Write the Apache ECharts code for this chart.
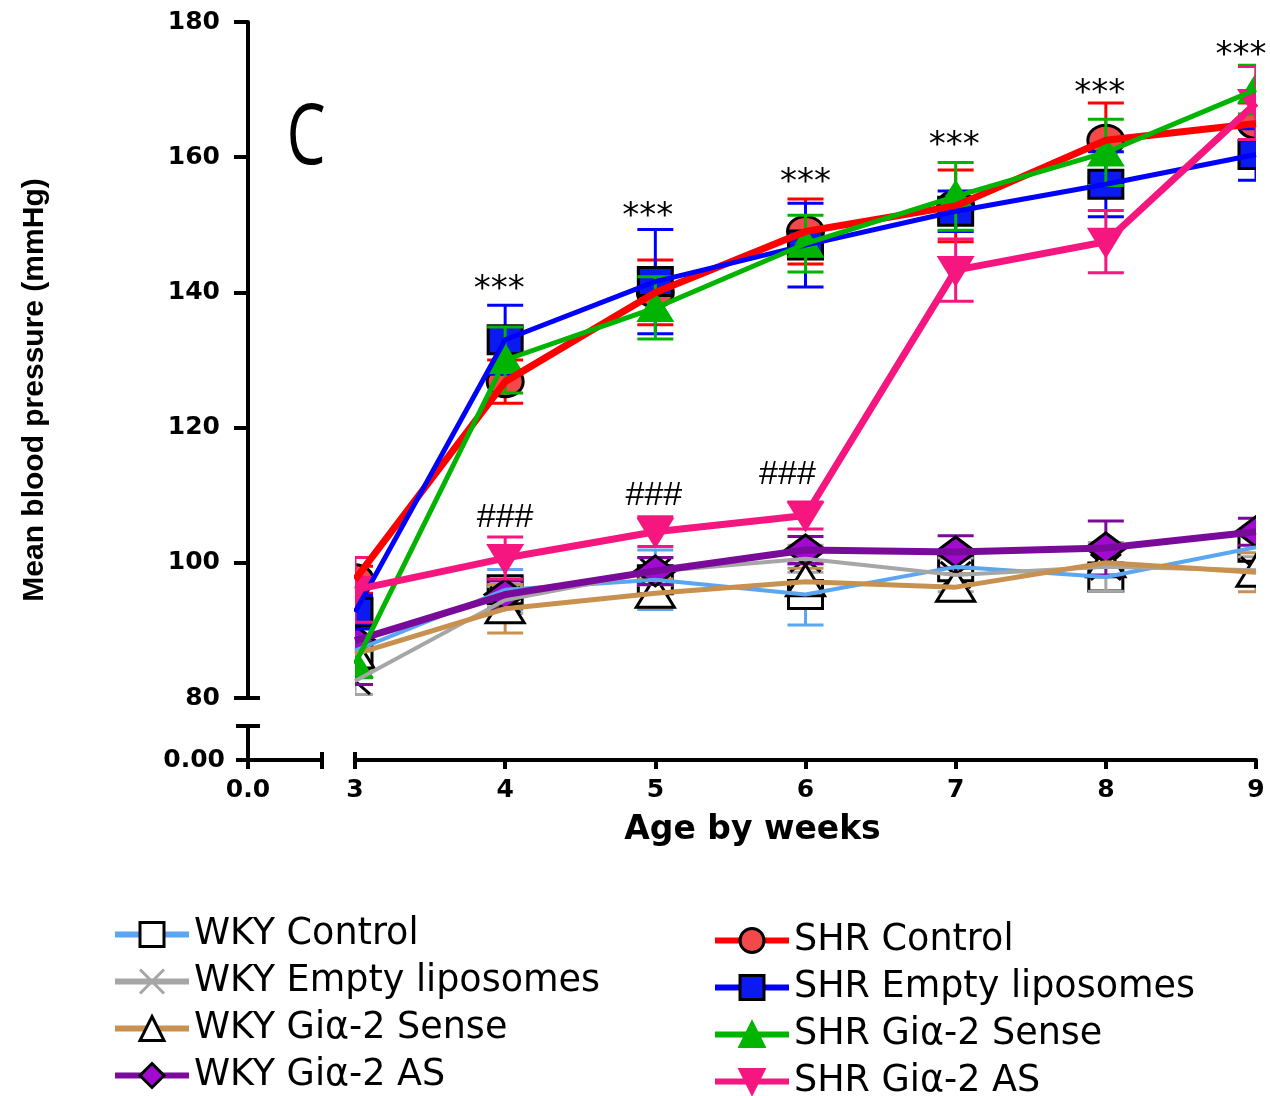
<!DOCTYPE html>
<html><head><meta charset="utf-8">
<script src="https://cdn.jsdelivr.net/npm/echarts@6/dist/echarts.min.js"></script>
<style>html,body{margin:0;padding:0;background:#fff}#c{width:1270px;height:1096px}</style>
</head><body><div id="c"></div>
<script>
// ---------- data ----------
const weeks = [3, 4, 5, 6, 7, 8, 9];

const wkyControl     = [87, 96, 97.5, 95.3, 99.4, 97.9, 102.3];
const wkyControlErr  = [2, 3, 4.4, 4.5, 2, 2, 2];
const wkyEmpty       = [82.5, 94.5, 98.7, 100.6, 98.2, 99.4, 98.9];
const wkyEmptyErr    = [2, 2, 2, 2, 2.5, 3.6, 2];
const wkySense       = [86.5, 93.2, 95.5, 97.2, 96.4, 100, 98.6];
const wkySenseErr    = [2, 3.6, 2.1, 2, 2, 2, 2.9];
const wkyAS          = [88.5, 95.3, 98.8, 101.9, 101.6, 102.2, 104.6];
const wkyASErr       = [6.5, 2, 2, 2, 2.4, 4, 2];

const shrControl     = [97.5, 126.8, 140, 149, 152.8, 162.5, 165];
const shrControlErr  = [2, 3.2, 4.8, 4.8, 5.3, 5.5, 3];
const shrEmpty       = [92.7, 133, 141.6, 147, 152, 156, 160.4];
const shrEmptyErr    = [2.5, 5.1, 7.7, 6.2, 3, 4.8, 3.8];
const shrSense       = [85, 130, 137.7, 147.2, 154.2, 160.7, 170];
const shrSenseErr    = [2, 4.9, 4.6, 4.2, 5, 4.9, 3.6];
const shrAS          = [96, 100.7, 104.6, 107, 143.3, 147.5, 168];
const shrASErr       = [4.8, 3.1, 2.2, 2, 4.6, 4.6, 5.4];

const starX      = [3.96, 4.95, 6.0, 6.99, 7.96, 8.9];
const starLevel  = [140.3, 151.1, 156.1, 161.6, 169.3, 175.0];
const hashX      = [4.0, 4.99, 5.88];
const hashLevel  = [106.7, 110, 113];

const yTicks = { min: 80, max: 180, step: 20 };
const xTicks = { min: 3, max: 9, step: 1 };

// ---------- layout ----------
const GL = 355, GR = 1256, GT = 22, GB = 698;
const AXX = 248, AXY = 760, STUB_R = 322, STUB_T = 726;
const W = 1270, H = 1096;

const groups = [
  { name: 'WKY Control', vals: wkyControl, errs: wkyControlErr, line: '#5aa6f2', lw: 4, marker: 'rect', fill: '#ffffff', stroke: '#000', legendSym: 'rect' },
  { name: 'WKY Empty liposomes', vals: wkyEmpty, errs: wkyEmptyErr, line: '#a6a6a6', lw: 4, marker: 'x', fill: 'none', stroke: '#000', legendSym: 'path://M0,0L10,10M10,0L0,10', legendStroke: '#a6a6a6' },
  { name: 'WKY Giα-2 Sense', vals: wkySense, errs: wkySenseErr, line: '#c8914f', lw: 5, marker: 'tri', fill: '#ffffff', stroke: '#000', legendSym: 'triangle' },
  { name: 'WKY Giα-2 AS', vals: wkyAS, errs: wkyASErr, line: '#7a0a9a', lw: 7, marker: 'diamond', fill: '#a20ad2', stroke: '#000', legendSym: 'diamond' },
  { name: 'SHR Control', vals: shrControl, errs: shrControlErr, line: '#ff0000', lw: 7, marker: 'circle', fill: '#f24a4a', stroke: '#000', legendSym: 'circle' },
  { name: 'SHR Empty liposomes', vals: shrEmpty, errs: shrEmptyErr, line: '#0000ff', lw: 5, marker: 'rect', fill: '#0a1af0', stroke: '#000', legendSym: 'rect' },
  { name: 'SHR Giα-2 Sense', vals: shrSense, errs: shrSenseErr, line: '#00b400', lw: 5, marker: 'tri', fill: '#00b400', stroke: null, legendSym: 'triangle' },
  { name: 'SHR Giα-2 AS', vals: shrAS, errs: shrASErr, line: '#f5177f', lw: 7, marker: 'itri', fill: '#f5177f', stroke: null, legendSym: 'path://M0,0L10,0L5,10Z' }
];

function markerShape(g, px, py) {
  const sw = 3;
  const st = g.stroke ? { fill: g.fill, stroke: g.stroke, lineWidth: sw } : { fill: g.fill };
  switch (g.marker) {
    case 'rect':
      return { type: 'rect', x: px, y: py, shape: { x: -17, y: -14, width: 34, height: 28 }, style: st };
    case 'circle':
      return { type: 'ellipse', x: px, y: py, shape: { cx: 0, cy: 0, rx: 18, ry: 15 }, style: st };
    case 'tri':
      return { type: 'polygon', x: px, y: py, shape: { points: [[0, -17], [19, 14], [-19, 14]] }, style: st };
    case 'itri':
      return { type: 'polygon', x: px, y: py, shape: { points: [[-19, -14], [19, -14], [0, 17]] }, style: st };
    case 'diamond':
      return { type: 'polygon', x: px, y: py, shape: { points: [[0, -15], [20, 0], [0, 15], [-20, 0]] }, style: st };
    case 'x':
      return { type: 'group', x: px, y: py, children: [
        { type: 'line', shape: { x1: -15, y1: -13, x2: 15, y2: 13 }, style: { stroke: '#000', lineWidth: 3 } },
        { type: 'line', shape: { x1: 15, y1: -13, x2: -15, y2: 13 }, style: { stroke: '#000', lineWidth: 3 } }
      ] };
  }
}

const series = [];
groups.forEach((g) => {
  const pts = weeks.map((w, i) => [w, g.vals[i]]);
  series.push({
    type: 'line', name: g.name, xAxisIndex: 0, yAxisIndex: 0,
    data: pts, showSymbol: false, symbol: g.legendSym, symbolSize: 24,
    lineStyle: { color: g.line, width: g.lw },
    itemStyle: { color: g.fill === 'none' ? g.line : g.fill, borderColor: g.legendStroke || g.stroke || g.fill, borderWidth: 3 },
    emphasis: { disabled: true }, silent: true, clip: true, animation: false
  });
  series.push({
    type: 'custom', name: g.name + ' markers', xAxisIndex: 0, yAxisIndex: 0,
    clip: true, silent: true, animation: false,
    data: weeks.map((w, i) => [w, g.vals[i], g.errs[i]]),
    encode: { x: 0, y: 1 },
    renderItem: function (params, api) {
      const x = api.value(0), y = api.value(1), e = api.value(2);
      const c = api.coord([x, y]);
      const t = api.coord([x, y + e]);
      const b = api.coord([x, y - e]);
      const cap = 18;
      const es = { stroke: g.line, lineWidth: 3 };
      return { type: 'group',
        children: [
          { type: 'line', shape: { x1: c[0], y1: t[1], x2: c[0], y2: b[1] }, style: es },
          { type: 'line', shape: { x1: c[0] - cap, y1: t[1], x2: c[0] + cap, y2: t[1] }, style: es },
          { type: 'line', shape: { x1: c[0] - cap, y1: b[1], x2: c[0] + cap, y2: b[1] }, style: es },
          markerShape(g, c[0], c[1])
        ] };
    }
  });
});

function textSeries(xs, ys, txt, font, size) {
  return {
    type: 'custom', name: txt, xAxisIndex: 0, yAxisIndex: 0, silent: true, animation: false, z: 6,
    data: xs.map((x, i) => [x, ys[i]]),
    encode: { x: 0, y: 1 },
    renderItem: function (params, api) {
      const p = api.coord([api.value(0), api.value(1)]);
      return { type: 'text', x: p[0], y: p[1], style: { text: txt, fontFamily: font, fontSize: size, fill: '#000', align: 'center', verticalAlign: 'middle' } };
    }
  };
}
series.push(textSeries(starX, starLevel, '***', 'DejaVu Sans', 34));
series.push(textSeries(hashX, hashLevel, '###', 'Liberation Sans', 34));

const tickLabel = { fontFamily: 'DejaVu Sans', fontWeight: 'bold', fontSize: 25, color: '#000' };
const axLine = { show: true, lineStyle: { color: '#000', width: 4 } };

const legendCommon = {
  orient: 'vertical', itemWidth: 74, itemHeight: 30, itemGap: 10, padding: 0, height: 185,
  textStyle: { fontFamily: 'DejaVu Sans', fontSize: 36.5, color: '#000' },
  itemStyle: { borderWidth: 3 }, lineStyle: { width: 6 },
  selectedMode: false
};

const option = {
  backgroundColor: '#fff',
  animation: false,
  grid: [
    { left: GL, right: W - GR, top: GT, bottom: H - GB, containLabel: false },
    { left: AXX, width: STUB_R - AXX, top: STUB_T, height: AXY - STUB_T, containLabel: false }
  ],
  xAxis: [
    { type: 'value', gridIndex: 0, min: xTicks.min, max: xTicks.max, interval: xTicks.step,
      offset: AXY - GB, position: 'bottom',
      axisLine: axLine, axisTick: { show: true, length: 9, lineStyle: { width: 4, color: '#000' } },
      axisLabel: Object.assign({ margin: 18 }, tickLabel), splitLine: { show: false },
      name: 'Age by weeks', nameLocation: 'middle', nameGap: 54,
      nameTextStyle: { fontFamily: 'DejaVu Sans', fontWeight: 'bold', fontSize: 33, color: '#000', padding: [0, 106, 0, 0] } },
    { type: 'value', gridIndex: 1, min: 0, max: 1, interval: 1,
      axisLine: axLine, axisTick: { show: true, length: 9, lineStyle: { width: 4, color: '#000' } },
      axisLabel: Object.assign({ margin: 18, formatter: v => v === 0 ? '0.0' : '' }, tickLabel), splitLine: { show: false } }
  ],
  yAxis: [
    { type: 'value', gridIndex: 0, min: yTicks.min, max: yTicks.max, interval: yTicks.step,
      offset: GL - AXX, position: 'left',
      axisLine: axLine, axisTick: { show: true, length: 14, lineStyle: { width: 4, color: '#000' } },
      axisLabel: Object.assign({ margin: 28 }, tickLabel), splitLine: { show: false },
      name: 'Mean blood pressure (mmHg)', nameLocation: 'middle', nameGap: 198,
      nameTextStyle: { fontFamily: 'Liberation Sans', fontWeight: 'bold', fontSize: 30, color: '#000', padding: [0, 60, 0, 0] } },
    { type: 'value', gridIndex: 1, min: 0, max: 1, interval: 1,
      axisLine: axLine, axisTick: { show: true, length: 12, lineStyle: { width: 4, color: '#000' } },
      axisLabel: Object.assign({ margin: 23, formatter: v => v === 0 ? '0.00' : '' }, tickLabel), splitLine: { show: false } }
  ],
  legend: [
    Object.assign({ left: 112, top: 916, data: groups.slice(0, 4).map(g => g.name) }, legendCommon),
    Object.assign({ left: 712, top: 922, data: groups.slice(4).map(g => g.name) }, legendCommon)
  ],
  graphic: [
    // white masks that trim markers/error bars at the plot edges (x = 3 and x = 9)
    { type: 'rect', silent: true, z: 4, shape: { x: AXX + 3, y: 0, width: GL - AXX - 4, height: GB + 2 }, style: { fill: '#fff' } },
    { type: 'rect', silent: true, z: 4, shape: { x: GR + 2, y: 0, width: W - GR, height: GB + 2 }, style: { fill: '#fff' } },
    { type: 'line', silent: true, z: 5, shape: { x1: AXX, y1: GB, x2: AXX + 12, y2: GB }, style: { stroke: '#000', lineWidth: 4 } },
    { type: 'line', silent: true, z: 5, shape: { x1: AXX, y1: STUB_T, x2: AXX + 12, y2: STUB_T }, style: { stroke: '#000', lineWidth: 4 } },
    { type: 'line', silent: true, z: 5, shape: { x1: STUB_R, y1: AXY - 8, x2: STUB_R, y2: AXY }, style: { stroke: '#000', lineWidth: 4 } },
    { type: 'line', silent: true, z: 5, shape: { x1: GL, y1: AXY - 8, x2: GL, y2: AXY }, style: { stroke: '#000', lineWidth: 4 } },
    { type: 'text', silent: true, z: 5, x: 306, y: 140, scaleX: 0.74,
      style: { text: 'C', fontFamily: 'Open Sans', fontSize: 84, fill: '#000', align: 'center', verticalAlign: 'middle' } }
  ],
  series: series
};

const chart = echarts.init(document.getElementById('c'), null, { renderer: 'canvas' });
chart.setOption(option);
</script>
</body></html>
